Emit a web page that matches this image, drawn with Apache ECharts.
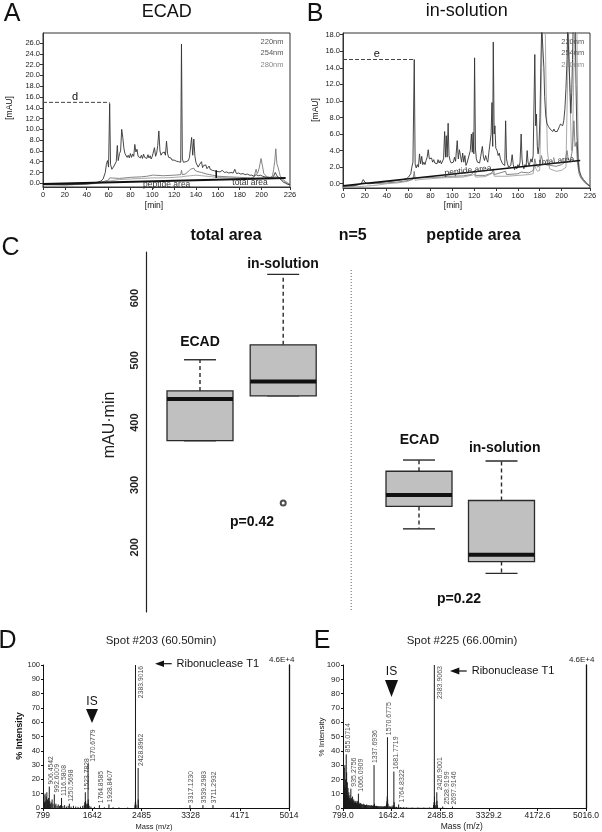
<!DOCTYPE html>
<html><head><meta charset="utf-8">
<script src="https://cdn.jsdelivr.net/npm/echarts@6/dist/echarts.min.js"></script>
<style>html,body{margin:0;padding:0;background:#fff}#c{width:602px;height:832px}</style>
</head><body><div id="c"></div>
<script>
// ---------------- DATA ----------------
const chromXTicks = [0,20,40,60,80,100,120,140,160,180,200,226];
const chromAYTicks = [0,2,4,6,8,10,12,14,16,18,20,22,24,26];
const chromBYTicks = [0,2,4,6,8,10,12,14,16,18];
const traceNames = ['220nm','254nm','280nm'];

const chromA220 = [[0,-0.2],[10,-0.2],[20,-0.25],[30,-0.2],[40,-0.1],[45,0],[50,0.2],[53,0.4],[55,0.8],[57,2.0],[58,3.5],[59,4.2],[60,3.0],[61,14.8],[61.8,3.5],[63,2.6],[64,2.8],[65,3.2],[66,3.5],[67,4.0],[68,7.0],[68.8,4.2],[69.5,4.5],[70,5.5],[71,6],[72,10.0],[73,8.5],[74,6.5],[75,5.5],[76,5.8],[77,4.8],[78,5.2],[79,4.7],[80,5.5],[81,4.8],[82,5.4],[83,5.0],[84,7.2],[85,5.8],[86,6.3],[87,5.0],[88,5.3],[89,4.7],[90,5.2],[91,4.6],[92,5.4],[93,4.8],[94,5.0],[95,4.6],[96,5.3],[97,4.7],[98,5.1],[99,4.5],[100,5.0],[101,4.8],[102,6.6],[103,5.0],[104,5.6],[105,7.0],[106,9.7],[107,6.0],[108,5.2],[109,5.6],[110,5.3],[111,5.8],[112,5.2],[113,7.8],[114,5.5],[115,4.8],[116,4.6],[117,4.7],[118,4.3],[119,4.5],[120,4.3],[121,4.4],[122,4.1],[123,4.2],[124,4.0],[125,4.1],[126,3.9],[126.7,25.8],[127.5,4.5],[128.5,3.9],[130,3.7],[131,4.0],[132,3.8],[133,4.2],[134,4.8],[135,5.0],[136,8.5],[137,5.2],[138,8.2],[139,5.0],[140,3.8],[141,3.6],[142,3.0],[143,3.4],[144,3.3],[145,4.0],[146,2.9],[147,3.3],[148,3.0],[149,3.4],[150,2.7],[151,2.9],[152,3.2],[153,2.6],[154,2.8],[155,2.4],[156,2.5],[157,2.3],[158,2.4],[159,2.2],[160,2.3],[162,2.1],[164,2.4],[166,2.0],[168,2.1],[170,1.9],[172,2.0],[174,1.9],[175.5,2.6],[177,1.8],[179,1.9],[181,1.7],[183,1.8],[185,1.6],[187,1.7],[189,1.5],[191,1.5],[193,1.3],[195,1.6],[197,1.4],[199,1.5],[201,1.3],[203,1.2],[205,1.1],[207,1.0],[209,1.0],[211,1.3],[212.5,2.0],[214,1.4],[216,1.0],[218,0.6],[220,0.2],[222,0],[224,-0.2],[226,-0.3]];
const chromA254 = [[0,-0.25],[20,-0.3],[40,-0.15],[50,0.1],[55,0.3],[60,0.6],[61,1.0],[62,0.7],[70,0.9],[80,1.1],[90,1.2],[95,1.3],[100,1.5],[101,1.8],[102,1.5],[110,1.4],[120,1.5],[126,1.6],[126.7,2.4],[127.5,1.6],[130,1.7],[133,2.2],[135,2.6],[136,2.3],[138,2.8],[139,2.4],[141,2.2],[145,2.0],[150,1.7],[155,1.5],[160,1.3],[170,1.2],[180,1.1],[190,1.0],[193,1.1],[195,2.6],[196,1.8],[197,2.2],[198,3.0],[199.5,4.6],[201,3.0],[202,1.8],[205,1.2],[208,1.1],[210,1.4],[211,2.5],[212,4.0],[213,6.4],[214,3.6],[215,3.0],[216,2.2],[217,1.4],[219,0.8],[222,0.3],[226,-0.2]];
const chromA280 = [[0,-0.3],[20,-0.3],[40,-0.2],[50,0.0],[60,0.4],[70,0.7],[80,0.8],[90,0.9],[100,1.0],[110,1.0],[120,1.1],[127,1.2],[130,1.3],[135,1.4],[140,1.5],[145,1.4],[150,1.3],[160,1.1],[170,1.0],[180,1.0],[190,0.9],[200,1.0],[210,1.1],[214,1.3],[217,0.9],[220,0.4],[223,0],[226,-0.3]];
const baselineA = [[0,-0.15],[222,1.0]];
const peptideMarkA = [[158.5,1.0],[158.5,2.4]];
const dashA = [[0,15],[61,15]];

const chromB220 = [[0,-0.3],[5,-0.25],[10,-0.2],[15,-0.1],[17,0.1],[18.5,0.5],[20,0.2],[22,0.0],[25,0.0],[30,0.1],[35,0.15],[40,0.25],[45,0.3],[50,0.4],[55,0.5],[58,0.6],[60,0.8],[62,1.2],[63,2.0],[64,2.6],[65.2,15.0],[66,2.4],[67,1.9],[68,2.3],[69,2.0],[70,3.6],[71,2.4],[72,3.3],[73,2.3],[74,2.6],[75,2.3],[76,2.8],[77,3.2],[78,4.1],[79,3.0],[80,2.8],[81,3.1],[82,2.6],[83,2.9],[84,2.5],[85,2.7],[86,2.4],[87,2.9],[88,2.5],[89,2.8],[90,2.4],[91,2.6],[92,3.0],[93,6.3],[93.8,3.2],[94.5,5.8],[95.3,3.2],[96.2,7.3],[97,3.4],[98,2.8],[99,2.5],[100,2.3],[101,2.6],[102,3.2],[103,2.7],[104.5,5.2],[105.5,3.0],[106.5,4.1],[107.5,3.4],[108.5,2.6],[109.5,3.7],[110.5,2.6],[111.5,3.4],[112.5,2.2],[113.5,2.5],[115,2.3],[116.5,4.0],[117.5,6.0],[118.3,3.8],[119,6.2],[119.7,3.6],[120.4,15.2],[121.2,4.2],[122,3.0],[123,2.6],[124,2.8],[125,2.5],[126,3.3],[127.5,4.5],[128.5,3.2],[129.5,2.8],[130.5,3.4],[131.5,2.9],[132.5,2.6],[133.5,3.8],[134.5,4.0],[135.5,6.0],[136.3,9.8],[137,4.5],[137.5,17.1],[138.3,6.0],[139,7.0],[139.8,4.3],[141,4.0],[142,3.4],[143,3.7],[144,3.0],[145,2.8],[146,2.4],[147,2.6],[148,2.2],[148.8,7.6],[149.6,3.0],[150.5,2.4],[151.5,2.0],[152.5,1.9],[153.5,2.2],[154.8,3.5],[155.8,2.3],[157,1.7],[158,2.1],[159,1.8],[160,2.3],[161,2.0],[162,2.6],[163,6.0],[163.8,3.0],[164.5,2.2],[165.5,1.8],[166.5,2.3],[167.5,2.0],[168.5,4.0],[169.3,2.6],[170.2,2.2],[171,2.5],[172,3.0],[173,2.6],[174,3.4],[175.5,15.6],[176.3,7.0],[177,8.4],[177.8,4.5],[178.5,3.6],[179.3,4.5],[180.2,8.0],[181,14],[181.8,19],[183,19],[183.8,14],[184.5,10.5],[185.5,8.2],[186.5,7.3],[188,6.9],[189.5,6.6],[191,6.4],[192,6.3],[193,6.6],[194,6.3],[195,6.5],[196,6.3],[197,6.4],[198,6.9],[199,7.2],[200,7.3],[201,7.0],[202,7.6],[203,9.0],[204,11.5],[205,15.0],[205.6,19],[207,19],[207.8,11],[208.5,8.5],[209.3,11],[210,15],[210.6,19],[212.5,19],[213.2,12],[214,6],[215,3.0],[216,1.6],[218,0.9],[220,0.5],[222,0.2],[224,-0.1],[226,-0.3]];
const chromB254 = [[0,-0.35],[10,-0.3],[18.5,0.1],[20,-0.1],[30,0.0],[40,0.1],[50,0.2],[60,0.4],[64,0.5],[65.2,1.5],[66,0.6],[70,0.7],[80,0.75],[90,0.8],[96,0.9],[100,0.9],[110,0.95],[117.5,1.1],[120.4,1.6],[121.2,1.0],[130,1.0],[136.3,1.3],[137.5,1.8],[138.5,1.1],[148.8,1.5],[149.6,1.1],[160,1.2],[163,1.4],[164,1.2],[170,1.3],[174,1.6],[175.5,3.0],[176.5,2.4],[178,2.0],[180,2.2],[181.5,3.4],[183,2.6],[185,2.3],[190,2.2],[195,2.1],[200,2.3],[203,2.6],[205,4.0],[206,3.0],[208,2.6],[210,4.2],[211.3,7.6],[212.3,4.5],[213.5,5.0],[214.5,2.5],[216,1.2],[218,0.6],[222,0.1],[226,-0.3]];
const chromB280 = [[0,-0.45],[10,-0.4],[20,-0.3],[30,-0.2],[40,0.0],[50,0.1],[60,0.3],[65.2,0.8],[66,0.4],[70,0.5],[80,0.6],[90,0.7],[100,0.75],[110,0.8],[120.4,1.1],[121.2,0.8],[130,0.85],[137.5,1.3],[138.5,0.9],[150,0.9],[160,1.0],[170,1.1],[174,1.2],[175.5,2.4],[176.5,1.8],[178,1.5],[180,1.6],[181.5,12],[182.5,19],[185,19],[186,10],[187,4],[189,1.8],[195,1.5],[200,1.6],[204,2.0],[205.5,12.5],[206.3,19],[207.3,19],[208,9],[209,4],[210,5],[211,12],[212,19],[214,19],[214.8,8],[215.5,3],[217,1.0],[220,0.3],[223,-0.1],[226,-0.3]];
const baselineB = [[0,-0.25],[217,2.8]];
const dashB = [[0,15],[65.2,15]];

const boxGroups = ['ECAD','in-solution'];
const totalArea = [[371,371,438,451,501],[443,443,466,525,638]];   // min,Q1,median,Q3,max
const totalOutliers = [['in-solution',271]];
const peptideArea = [[229.5,265.5,284,322,340],[158,177,188,275,338.5]];
const boxYTicks = [200,300,400,500,600];

const specDXTicks = [799,1642,2485,3328,4171,5014];
const specDPeakMz = [906.4542,992.6009,1116.5808,1250.5698,1523.7828,1570.6779,1764.8585,1928.8407,2383.9016,2428.8962,3317.1230,3539.2983,3711.2932];
const specDPeakInt = [15,9.5,7,3,11,31,2,2.5,100,28,2,2,2];
const specDNoise = [[805,6],[815,9],[825,4],[835,10],[845,5],[855,8],[865,11],[875,6],[885,4],[895,7],[915,5],[925,3],[940,4],[955,6],[970,3],[1005,2],[1020,3],[1040,1.5],[1060,2.5],[1080,1.5],[1100,2],[1140,1.5],[1170,2],[1200,1],[1230,1.5],[1280,1],[1320,1.5],[1360,1],[1400,0.8],[1440,1],[1480,1.5],[1505,2],[1515,4],[1530,5],[1540,3],[1555,2],[1565,3],[1574,6],[1580,3],[1590,1.5],[1620,1],[1680,0.8],[1850,0.5],[2000,0.5],[2100,0.4],[2250,0.3],[2375,2],[2380,4],[2386,5],[2388,3],[2392,2],[2431,6],[2434,2]];
const specEXTicks = [799.0,1642.4,2485.8,3329.2,4172.6,5016.0];
const specEPeakMz = [855.0714,935.2756,1066.0909,1337.6936,1570.6775,1681.7719,1764.8322,2383.9063,2426.9001,2528.9199,2697.9146];
const specEPeakInt = [37.5,13.5,10,30,49.5,25.5,2.5,100,11,1,1];
const specENoise = [[803,12],[810,22],[815,8],[820,28],[826,15],[832,30],[838,10],[845,20],[850,14],[862,25],[868,12],[874,18],[880,9],[886,14],[892,8],[900,11],[910,7],[920,9],[928,6],[945,7],[955,5],[965,8],[975,5],[985,6],[995,4],[1005,5],[1015,4],[1025,5],[1035,3.5],[1045,4],[1055,5],[1075,4],[1085,3],[1100,3.5],[1115,3],[1130,2.5],[1150,3],[1170,2.5],[1190,2],[1210,2.5],[1230,2],[1250,2],[1270,1.8],[1290,2],[1310,1.5],[1325,2],[1345,3],[1360,1.5],[1380,1.5],[1400,1.2],[1420,1.3],[1440,1.1],[1460,1.2],[1480,1],[1500,1],[1520,1.2],[1540,1.5],[1555,3],[1562,5],[1566,8],[1574,6],[1580,3],[1600,1.5],[1620,1],[1650,1.5],[1670,2],[1688,4],[1700,1],[1730,0.8],[1800,0.6],[1850,0.5],[1900,0.4],[2000,0.3],[2100,0.3],[2200,0.2],[2300,0.3],[2370,2],[2378,4],[2387,8],[2392,4],[2400,2],[2430,5],[2436,2]];
const specEHump = [[799,9],[830,8],[870,6],[920,5],[1000,3.5],[1100,2.5],[1250,1.8],[1400,1.2],[1600,0.8],[1800,0.4],[2000,0.2],[2360,0.2],[2400,0.6],[2450,0.2],[2600,0],[5016,0]];

// ---------------- HELPERS ----------------
const SANS = "'Liberation Sans', Arial, sans-serif";
const AX = '#333';
const SPEC_W = 246;
function txt(text, x, y, size, o) {
  o = o || {};
  return { type:'text', x, y, rotation:o.rot||0, z:100, silent:true,
    style:{ text, fill:o.color||'#111', fontSize:size, fontWeight:o.bold?'bold':'normal',
      fontFamily:SANS, textAlign:o.align||'center', textVerticalAlign:o.valign||'middle' } };
}
function chromX(gi) {
  return { type:'value', gridIndex:gi, min:0, max:226,
    axisLine:{show:true, onZero:false, lineStyle:{color:AX, width:1}},
    axisTick:{show:true, length:3, customValues:chromXTicks, lineStyle:{color:AX}},
    axisLabel:{customValues:chromXTicks, fontSize:7.5, color:'#222', margin:4, fontFamily:SANS},
    splitLine:{show:false} };
}
function chromY(gi, min, max, ticks) {
  return { type:'value', gridIndex:gi, min, max,
    axisLine:{show:true, onZero:false, lineStyle:{color:AX, width:1}},
    axisTick:{show:true, length:3, customValues:ticks, lineStyle:{color:AX}},
    axisLabel:{customValues:ticks, fontSize:7.5, color:'#222', margin:3, fontFamily:SANS, formatter:v=>v.toFixed(1)},
    splitLine:{show:false} };
}
function specX(gi, ticks, dec) {
  return { type:'value', gridIndex:gi, min:ticks[0], max:ticks[ticks.length-1],
    axisLine:{show:true, onZero:false, lineStyle:{color:'#111', width:1}},
    axisTick:{show:true, length:3, customValues:ticks, lineStyle:{color:'#111'}},
    axisLabel:{customValues:ticks, fontSize:8.5, color:'#222', margin:3, fontFamily:SANS, formatter:v=>v.toFixed(dec)},
    splitLine:{show:false} };
}
function specY(gi, fs) {
  return { type:'value', gridIndex:gi, min:0, max:100, interval:10,
    axisLine:{show:true, onZero:false, lineStyle:{color:'#111', width:1}},
    axisTick:{show:true, length:2, lineStyle:{color:'#111'}},
    axisLabel:{fontSize:fs, color:'#222', margin:3, fontFamily:SANS},
    splitLine:{show:false} };
}
function specYRight(gi) {
  return { type:'value', gridIndex:gi, min:0, max:100, position:'right',
    axisLine:{show:true, onZero:false, lineStyle:{color:'#111', width:1.3}},
    axisTick:{show:false}, axisLabel:{show:false}, splitLine:{show:false} };
}
function line(data, xi, yi, color, width, dash) {
  return { type:'line', xAxisIndex:xi, yAxisIndex:yi, data, symbol:'none', clip:true, silent:true,
    lineStyle:{color, width, type:dash?'dashed':'solid'}, z:dash?5:2 };
}
function sticks(data, xi, yi) {
  return { type:'custom', xAxisIndex:xi, yAxisIndex:yi, data, clip:true, silent:true,
    renderItem:(p, api) => {
      const a = api.coord([api.value(0), 0]), b = api.coord([api.value(0), api.value(1)]);
      return { type:'line', shape:{x1:a[0], y1:a[1], x2:b[0], y2:b[1]}, style:{stroke:'#1a1a1a', lineWidth:1} };
    } };
}
// peak labels: rotated text just above each stick; side labels nudged apart so they don't overlap
function peakLabels(mz, ints, ticks, xi, yi, fs) {
  const lo = ticks[0], hi = ticks[ticks.length-1];
  let lastLabel = -1e9, lastStick = -1e9;
  const items = mz.map((m,i) => {
    const sx = (m - lo) / (hi - lo) * SPEC_W;
    if (ints[i] >= 90) {
      lastStick = sx;
      return { value:[m, ints[i]], name:m.toFixed(4), label:{position:[6,1], align:'right'} };
    }
    const want = Math.max(sx + 1.5, lastLabel + 6.8, lastStick + 6);
    lastLabel = want; lastStick = sx;
    return { value:[m, ints[i]], name:m.toFixed(4), label:{position:[want - sx, -2], align:'left'} };
  });
  return { type:'scatter', xAxisIndex:xi, yAxisIndex:yi, symbolSize:0, silent:true, z:10, data:items,
    label:{show:true, formatter:p=>p.name, rotate:90, verticalAlign:'middle', fontSize:fs, color:'#222', fontFamily:SANS} };
}
function boxSeries(stats, xi, yi) {
  return { type:'custom', xAxisIndex:xi, yAxisIndex:yi, silent:true, z:5,
    encode:{x:0, y:[1,2,3,4,5]},
    data: stats.map((s,i)=>[boxGroups[i], ...s]),
    renderItem:(p, api) => {
      const cx = api.coord([api.value(0), api.value(3)])[0];
      const Y = v => api.coord([api.value(0), v])[1];
      const lo=Y(api.value(1)), q1=Y(api.value(2)), md=Y(api.value(3)), q3=Y(api.value(4)), hi=Y(api.value(5));
      const hw = 33, cw = 16, ink = '#2a2a2a';
      const ch = [
        {type:'line', shape:{x1:cx, y1:q3, x2:cx, y2:hi}, style:{stroke:ink, lineWidth:1.4, lineDash:[4,3]}},
        {type:'line', shape:{x1:cx-cw, y1:hi, x2:cx+cw, y2:hi}, style:{stroke:ink, lineWidth:1.4}},
        {type:'line', shape:{x1:cx, y1:q1, x2:cx, y2:lo}, style:{stroke:ink, lineWidth:1.4, lineDash:[4,3]}},
        {type:'line', shape:{x1:cx-cw, y1:lo, x2:cx+cw, y2:lo}, style:{stroke:ink, lineWidth:1.4}},
        {type:'rect', shape:{x:cx-hw, y:q3, width:2*hw, height:q1-q3}, style:{fill:'#c0c0c0', stroke:ink, lineWidth:1.3}},
        {type:'line', shape:{x1:cx-hw, y1:md, x2:cx+hw, y2:md}, style:{stroke:'#111', lineWidth:4}}
      ];
      return {type:'group', children:ch};
    } };
}

// ---------------- OPTION ----------------
const chart = echarts.init(document.getElementById('c'), null, {renderer:'canvas'});
const option = {
  animation:false,
  backgroundColor:'#fff',
  grid:[
    {left:43, top:33, width:247, height:154, show:true, borderColor:AX, borderWidth:1, backgroundColor:'transparent'},
    {left:343, top:33, width:247, height:155, show:true, borderColor:AX, borderWidth:1, backgroundColor:'transparent'},
    {left:158.4, top:252, width:166.4, height:360},
    {left:377.75, top:252, width:165, height:360},
    {left:43, top:665, width:SPEC_W, height:143},
    {left:343, top:665, width:SPEC_W, height:143}
  ],
  xAxis:[
    chromX(0), chromX(1),
    {type:'category', gridIndex:2, data:boxGroups, show:false},
    {type:'category', gridIndex:3, data:boxGroups, show:false},
    specX(4, specDXTicks, 0), specX(5, specEXTicks, 1)
  ],
  yAxis:[
    chromY(0, -0.69, 27.86, chromAYTicks),
    chromY(1, -0.52, 18.2, chromBYTicks),
    {type:'value', gridIndex:2, min:96, max:674, offset:12.4,
      axisLine:{show:true, lineStyle:{color:'#222', width:1.2}}, axisTick:{show:false},
      axisLabel:{customValues:boxYTicks, rotate:90, fontSize:11, fontWeight:'bold', color:'#222', margin:6, fontFamily:SANS},
      splitLine:{show:false}},
    {type:'value', gridIndex:3, min:96, max:674, show:false},
    specY(4, 7.5), specYRight(4), specY(5, 8), specYRight(5)
  ],
  series:[
    line(chromA280, 0, 0, '#a0a0a0', 0.9), line(chromA254, 0, 0, '#777', 0.9), line(chromA220, 0, 0, '#333', 0.9),
    line(baselineA, 0, 0, '#111', 2), line(peptideMarkA, 0, 0, '#111', 1.6), line(dashA, 0, 0, '#444', 1, true),
    line(chromB280, 1, 1, '#a0a0a0', 0.9), line(chromB254, 1, 1, '#777', 0.9), line(chromB220, 1, 1, '#333', 0.9),
    line(baselineB, 1, 1, '#111', 1.3), line(dashB, 1, 1, '#444', 1, true),
    boxSeries(totalArea, 2, 2),
    {type:'scatter', xAxisIndex:2, yAxisIndex:2, data:totalOutliers, symbol:'emptyCircle', symbolSize:5,
      itemStyle:{color:'#222', borderColor:'#222', borderWidth:1}, silent:true, z:6},
    boxSeries(peptideArea, 3, 3),
    {type:'line', xAxisIndex:5, yAxisIndex:6, data:specEHump, symbol:'none', silent:true,
      lineStyle:{width:0}, areaStyle:{color:'#222'}, z:1},
    sticks([...specDNoise, ...specDPeakMz.map((m,i)=>[m, specDPeakInt[i]])], 4, 4),
    sticks([...specENoise, ...specEPeakMz.map((m,i)=>[m, specEPeakInt[i]])], 5, 6),
    peakLabels(specDPeakMz, specDPeakInt, specDXTicks, 4, 4, 6.8),
    peakLabels(specEPeakMz, specEPeakInt, specEXTicks, 5, 6, 7)
  ],
  graphic:{elements:[
    // Panel A
    txt('A', 12, 14, 25), txt('ECAD', 166.7, 12, 18),
    txt('[mAU]', 10, 108, 8.5, {rot:Math.PI/2}), txt('[min]', 154, 206, 8.5),
    txt(traceNames[0], 272, 42.3, 7.5, {color:'#555'}), txt(traceNames[1], 272, 53.3, 7.5, {color:'#555'}), txt(traceNames[2], 272, 65.3, 7.5, {color:'#8a8a8a'}),
    txt('d', 75, 97, 11), txt('peptide area', 166.7, 184.3, 8.5, {color:'#333'}), txt('total area', 250, 183, 8.5, {color:'#333'}),
    // Panel B
    txt('B', 315, 14, 25), txt('in-solution', 466.7, 11, 18),
    txt('[mAU]', 316, 110, 8.5, {rot:Math.PI/2}), txt('[min]', 453, 206, 8.5),
    txt(traceNames[0], 572.7, 42.3, 7.5, {color:'#555'}), txt(traceNames[1], 572.7, 53.3, 7.5, {color:'#555'}), txt(traceNames[2], 572.7, 65.3, 7.5, {color:'#8a8a8a'}),
    txt('e', 376.7, 54, 11), txt('peptide area', 468, 170.7, 8.5, {color:'#333', rot:0.106}), txt('total area', 556.7, 161, 8.5, {color:'#333', rot:0.106}),
    // Panel C
    txt('C', 10.5, 248, 25),
    txt('total area', 226, 236, 16, {bold:true}), txt('n=5', 352.7, 236, 16, {bold:true}), txt('peptide area', 473.5, 236, 16, {bold:true}),
    txt('mAU·min', 110, 425, 16, {rot:Math.PI/2, color:'#222'}),
    txt('ECAD', 200, 342, 14, {bold:true}), txt('in-solution', 283, 264, 14, {bold:true}),
    txt('ECAD', 419.5, 440, 14, {bold:true}), txt('in-solution', 504.7, 448, 14, {bold:true}),
    txt('p=0.42', 252, 522, 14, {bold:true}), txt('p=0.22', 459, 599, 14, {bold:true}),
    {type:'line', shape:{x1:351.2, y1:270, x2:351.2, y2:612}, style:{stroke:'#666', lineWidth:1, lineDash:[1,2]}, silent:true},
    // Panel D
    txt('D', 7.5, 641, 25), txt('Spot #203 (60.50min)', 161, 641, 11.5, {color:'#222'}),
    txt('% Intensity', 20, 736, 9, {bold:true, rot:Math.PI/2}), txt('Mass (m/z)', 154, 826.5, 7.5, {color:'#222'}),
    txt('IS', 92, 702, 12), {type:'polygon', shape:{points:[[86,709],[98,709],[92,723]]}, style:{fill:'#111'}, silent:true},
    {type:'polygon', shape:{points:[[155,663.7],[164,660.5],[164,667]]}, style:{fill:'#111'}, silent:true},
    {type:'line', shape:{x1:162, y1:663.7, x2:171.7, y2:663.7}, style:{stroke:'#111', lineWidth:1.2}, silent:true},
    txt('Ribonuclease T1', 176.5, 663.7, 11, {align:'left'}), txt('4.6E+4', 281.7, 660, 8, {color:'#222'}),
    // Panel E
    txt('E', 322, 641, 25), txt('Spot #225 (66.00min)', 462, 641, 11.5, {color:'#222'}),
    txt('% Intensity', 321.7, 737, 8, {rot:Math.PI/2, color:'#222'}), txt('Mass (m/z)', 461.7, 826.5, 8.5, {color:'#222'}),
    txt('IS', 391.5, 672, 12), {type:'polygon', shape:{points:[[385,680],[398,680],[391.5,697]]}, style:{fill:'#111'}, silent:true},
    {type:'polygon', shape:{points:[[450,671],[459.3,667.5],[459.3,674.5]]}, style:{fill:'#111'}, silent:true},
    {type:'line', shape:{x1:457, y1:671, x2:466.7, y2:671}, style:{stroke:'#111', lineWidth:1.2}, silent:true},
    txt('Ribonuclease T1', 471.7, 671, 11, {align:'left'}), txt('4.6E+4', 581.7, 660, 8, {color:'#222'})
  ]}
};
chart.setOption(option);
</script></body></html>
